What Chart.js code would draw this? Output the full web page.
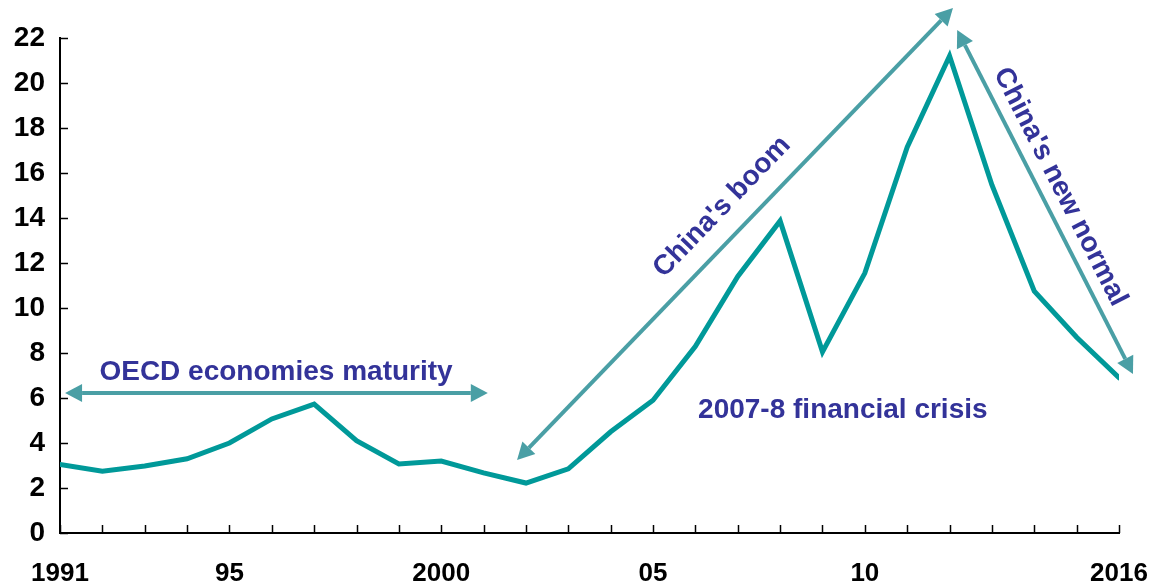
<!DOCTYPE html>
<html>
<head>
<meta charset="utf-8">
<script src="https://cdn.jsdelivr.net/npm/chart.js@4/dist/chart.umd.min.js"></script>
<style>
    html, body { margin: 0; padding: 0; background: #fff; }
    #chart { display: block; }
</style>
</head>
<body>
<canvas id="chart" width="1149" height="586"></canvas>
<script>
// Annual values, 1991-2016
const years = [1991, 1992, 1993, 1994, 1995, 1996, 1997, 1998, 1999, 2000,
               2001, 2002, 2003, 2004, 2005, 2006, 2007, 2008, 2009, 2010,
               2011, 2012, 2013, 2014, 2015, 2016];
const values = [3.05, 2.75, 2.98, 3.3, 4.0, 5.07, 5.73, 4.1, 3.07, 3.2,
                2.67, 2.22, 2.85, 4.5, 5.9, 8.3, 11.4, 13.87, 8.05, 11.55,
                17.15, 21.2, 15.47, 10.75, 8.7, 6.9];

// Years that get a label on the x axis, and the label text
const labelYears = [1991, 1995, 2000, 2005, 2010, 2016];
const labelTexts = ['1991', '95', '2000', '05', '10', '2016'];

const TEAL = '#009999';
const ARROW = '#4a9fa5';
const NAVY = '#333399';
const FONT = 'Arial, "Liberation Sans", sans-serif';

// Double-headed arrows, ends given in (year, value)
const arrows = [
    { from: [1991.12, 6.22], to: [2001.1, 6.22] },
    { from: [2001.79, 3.24], to: [2012.08, 23.33] },
    { from: [2012.18, 22.36], to: [2016.33, 7.07] }
];

// Annotation texts, centre in (year, value), angle in degrees
const notes = [
    { text: 'OECD economies maturity', at: [1996.1, 7.16], angle: 0 },
    { text: "China's boom", at: [2006.63, 14.49], angle: -46 },
    { text: "China's new normal", at: [2014.61, 15.38], angle: 63 },
    { text: '2007-8 financial crisis', at: [2009.48, 5.47], angle: 0 }
];

function drawArrow(ctx, x1, y1, x2, y2) {
    const ang = Math.atan2(y2 - y1, x2 - x1);
    const head = 17, half = 9;
    const cos = Math.cos(ang), sin = Math.sin(ang);
    ctx.beginPath();
    ctx.moveTo(x1 + cos * head, y1 + sin * head);
    ctx.lineTo(x2 - cos * head, y2 - sin * head);
    ctx.stroke();
    [[x1, y1, -1], [x2, y2, 1]].forEach(([x, y, dir]) => {
        const bx = x - dir * cos * head, by = y - dir * sin * head;
        ctx.beginPath();
        ctx.moveTo(x, y);
        ctx.lineTo(bx - sin * half, by + cos * half);
        ctx.lineTo(bx + sin * half, by - cos * half);
        ctx.closePath();
        ctx.fill();
    });
}

// inward tick marks on both axes
const innerTicks = {
    id: 'innerTicks',
    afterDatasetsDraw(chart) {
        const { ctx, chartArea, scales } = chart;
        ctx.save();
        ctx.strokeStyle = '#000';
        ctx.lineWidth = 1.5;
        scales.x.ticks.forEach(t => {
            const px = Math.round(scales.x.getPixelForValue(t.value)) + 0.5;
            ctx.beginPath();
            ctx.moveTo(px, chartArea.bottom);
            ctx.lineTo(px, chartArea.bottom - 8);
            ctx.stroke();
        });
        scales.y.ticks.forEach(t => {
            const py = Math.round(scales.y.getPixelForValue(t.value)) + 0.5;
            ctx.beginPath();
            ctx.moveTo(chartArea.left, py);
            ctx.lineTo(chartArea.left + 8, py);
            ctx.stroke();
        });
        ctx.restore();
    }
};

const annotations = {
    id: 'annotations',
    afterDraw(chart) {
        const { ctx, scales } = chart;
        const px = v => scales.x.getPixelForValue(v);
        const py = v => scales.y.getPixelForValue(v);
        ctx.save();
        ctx.strokeStyle = ARROW;
        ctx.fillStyle = ARROW;
        ctx.lineWidth = 4;
        arrows.forEach(a => {
            drawArrow(ctx, px(a.from[0]), py(a.from[1]), px(a.to[0]), py(a.to[1]));
        });
        ctx.fillStyle = NAVY;
        ctx.font = 'bold 28px ' + FONT;
        ctx.textAlign = 'center';
        ctx.textBaseline = 'middle';
        notes.forEach(n => {
            ctx.save();
            ctx.translate(px(n.at[0]), py(n.at[1]));
            ctx.rotate(n.angle * Math.PI / 180);
            ctx.fillText(n.text, 0, 0);
            ctx.restore();
        });
        ctx.restore();
    }
};

// fixed axis sizes, no extra room for the edge labels
function fitX(s) {
    s.height = 53;
    s.paddingLeft = 0;
    s.paddingRight = 0;
}
function fitY(s) {
    s.width = 60;
    s.paddingTop = 0;
    s.paddingBottom = 0;
}

new Chart(document.getElementById('chart'), {
    type: 'line',
    data: {
        datasets: [{
            data: years.map((y, i) => ({ x: y, y: values[i] })),
            borderColor: TEAL,
            borderWidth: 5,
            borderCapStyle: 'round',
            pointRadius: 0,
            tension: 0,
            fill: false
        }]
    },
    options: {
        responsive: false,
        animation: false,
        layout: { padding: { top: 38, right: 30, left: 0, bottom: 0 } },
        plugins: {
            legend: { display: false },
            tooltip: { enabled: false }
        },
        scales: {
            x: {
                type: 'linear',
                min: 1991,
                max: 2016,
                afterFit: fitX,
                grid: { drawOnChartArea: false, drawTicks: false },
                border: { color: '#000', width: 2 },
                ticks: {
                    stepSize: 1,
                    autoSkip: false,
                    maxRotation: 0,
                    padding: 25,
                    color: '#000',
                    font: { family: FONT, size: 26, weight: 'bold' },
                    callback: v => {
                        const i = labelYears.indexOf(v);
                        return i >= 0 ? labelTexts[i] : '';
                    }
                }
            },
            y: {
                min: 0,
                max: 22,
                afterFit: fitY,
                grid: { drawOnChartArea: false, drawTicks: false },
                border: { color: '#000', width: 2 },
                ticks: {
                    stepSize: 2,
                    padding: 15,
                    color: '#000',
                    font: { family: FONT, size: 28, weight: 'bold' }
                }
            }
        }
    },
    plugins: [innerTicks, annotations]
});
</script>
</body>
</html>
